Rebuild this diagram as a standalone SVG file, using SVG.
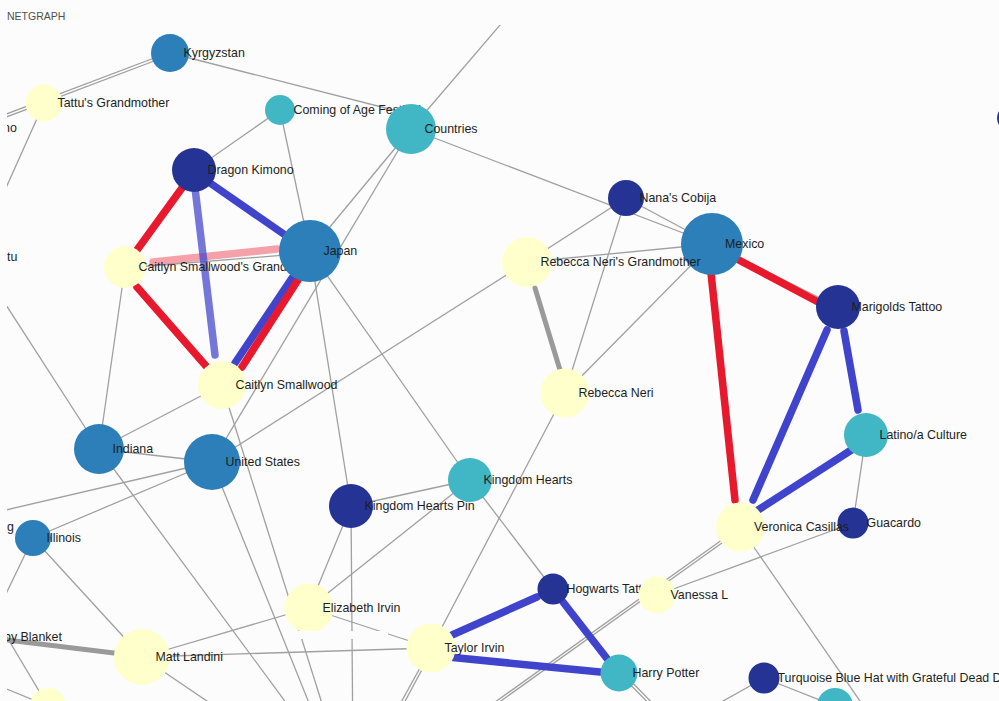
<svg xmlns="http://www.w3.org/2000/svg" width="999" height="701" viewBox="0 0 999 701">
<defs>
<clipPath id="area"><rect x="7" y="25" width="992" height="676"/></clipPath>
<style>
.e{stroke:#a0a0a0;stroke-width:1.3;fill:none}
.tg{stroke:#9a9a9a;stroke-width:5;stroke-linecap:round;fill:none}
.r{stroke:#e8192c;stroke-width:7.5;stroke-linecap:round;fill:none}
.b{stroke:#4044cc;stroke-width:7.5;stroke-linecap:round;fill:none}
.lb{stroke:#4044cc;stroke-opacity:0.72;stroke-width:7.5;stroke-linecap:round;fill:none}
.pk{stroke:#e8192c;stroke-opacity:0.4;stroke-width:7.5;stroke-linecap:round;fill:none}
.navy{fill:#253494}
.mid{fill:#2c7fb8}
.teal{fill:#41b6c4}
.yel{fill:#ffffcc}
text{font-family:"Liberation Sans",Arial,sans-serif;font-size:12.4px;fill:#1e1e1e}
.title{font-size:10.5px;fill:#505050}
</style>
</defs>
<rect x="0" y="0" width="999" height="701" fill="#fcfcfc"/>
<text class="title" x="7" y="20">NETGRAPH</text>
<g clip-path="url(#area)">
<g id="connectors">
<line class="e" x1="-20" y1="124" x2="170" y2="52"/>
<line class="e" x1="-20" y1="127" x2="170" y2="55"/>
<line class="e" x1="44" y1="103" x2="-25" y2="257"/>
<line class="e" x1="170" y1="53" x2="405" y2="113"/>
<line class="e" x1="280" y1="110" x2="194" y2="170"/>
<line class="e" x1="280" y1="110" x2="310" y2="251"/>
<line class="e" x1="411" y1="129" x2="310" y2="251"/>
<line class="e" x1="411" y1="129" x2="212" y2="462"/>
<line class="e" x1="411" y1="129" x2="712" y2="244"/>
<line class="e" x1="411" y1="129" x2="530" y2="-10"/>
<line class="e" x1="125" y1="268" x2="310" y2="253"/>
<line class="e" x1="125" y1="267" x2="99" y2="449"/>
<line class="e" x1="-25" y1="257" x2="99" y2="449"/>
<line class="e" x1="222" y1="385" x2="99" y2="449"/>
<line class="e" x1="99" y1="449" x2="212" y2="462"/>
<line class="e" x1="-20" y1="516" x2="212" y2="462"/>
<line class="e" x1="33" y1="538" x2="212" y2="462"/>
<line class="e" x1="33" y1="538" x2="-10" y2="627"/>
<line class="e" x1="33" y1="538" x2="142" y2="657"/>
<line class="e" x1="99" y1="449" x2="343" y2="780"/>
<line class="e" x1="212" y1="462" x2="340" y2="780"/>
<line class="e" x1="222" y1="385" x2="346" y2="780"/>
<line class="e" x1="310" y1="251" x2="351" y2="506"/>
<line class="e" x1="310" y1="251" x2="470" y2="480"/>
<line class="e" x1="212" y1="462" x2="527" y2="262"/>
<line class="e" x1="351" y1="506" x2="470" y2="480"/>
<line class="e" x1="351" y1="506" x2="309" y2="608"/>
<line class="e" x1="351" y1="506" x2="353" y2="760"/>
<line class="e" x1="470" y1="480" x2="309" y2="608"/>
<line class="e" x1="470" y1="480" x2="553" y2="589"/>
<line class="e" x1="431" y1="648" x2="565" y2="393"/>
<line class="e" x1="142" y1="657" x2="309" y2="608"/>
<line class="e" x1="142" y1="657" x2="431" y2="648"/>
<line class="e" x1="309" y1="608" x2="431" y2="648"/>
<line class="e" x1="142" y1="657" x2="260" y2="737"/>
<line class="e" x1="-5" y1="617" x2="48" y2="706"/>
<line class="e" x1="-20" y1="678" x2="48" y2="706"/>
<line class="e" x1="431" y1="648" x2="383" y2="735"/>
<line class="e" x1="433" y1="649" x2="387" y2="735"/>
<line class="e" x1="740" y1="527" x2="470" y2="720"/>
<line class="e" x1="741.5" y1="529" x2="471.5" y2="722"/>
<line class="e" x1="619" y1="673" x2="665" y2="720"/>
<line class="e" x1="621" y1="671" x2="667" y2="718"/>
<line class="e" x1="657" y1="595" x2="853" y2="523"/>
<line class="e" x1="740" y1="527" x2="880" y2="730"/>
<line class="e" x1="866" y1="435" x2="853" y2="523"/>
<line class="e" x1="866" y1="435" x2="740" y2="527"/>
<line class="e" x1="712" y1="244" x2="838" y2="307"/>
<line class="e" x1="764" y1="678" x2="700" y2="714"/>
<line class="e" x1="764" y1="678" x2="835" y2="706"/>
<line class="e" x1="527" y1="262" x2="626" y2="198"/>
<line class="e" x1="527" y1="262" x2="712" y2="244"/>
<line class="e" x1="626" y1="198" x2="565" y2="393"/>
<line class="e" x1="712" y1="244" x2="565" y2="393"/>
<line class="e" x1="626" y1="198" x2="712" y2="244"/>
<line class="tg" x1="535" y1="288" x2="560" y2="370"/>
<line class="tg" x1="-10" y1="638" x2="114" y2="653"/>
<line class="pk" x1="153" y1="262" x2="277" y2="249"/>
<line class="lb" x1="195" y1="188" x2="215" y2="355"/>
<line class="r" x1="182" y1="188" x2="137" y2="250"/>
<line class="r" x1="137" y1="287" x2="206" y2="366"/>
<line class="b" x1="210" y1="183" x2="288" y2="237"/>
<line class="b" x1="292" y1="278" x2="235" y2="363"/>
<line class="r" x1="298" y1="280" x2="242" y2="367"/>
<line class="r" x1="735" y1="258" x2="820" y2="303"/>
<line class="r" x1="711" y1="273" x2="735" y2="500"/>
<line class="b" x1="827" y1="330" x2="753" y2="500"/>
<line class="b" x1="844" y1="331" x2="858" y2="410"/>
<line class="b" x1="853" y1="449" x2="758" y2="510"/>
<line class="b" x1="452" y1="635" x2="537" y2="597"/>
<line class="b" x1="563" y1="602" x2="612" y2="665"/>
<line class="b" x1="438" y1="656" x2="600" y2="672"/>
</g>
<g id="off-left-labels">
<text x="3" y="132">no</text>
<text x="7" y="261">tu</text>
<text x="7" y="531">g</text>
<text x="4" y="641">by Blanket</text>
</g>
<g id="n-kyrgyzstan"><circle class="mid" cx="170" cy="53" r="19"/><text x="183.5" y="57">Kyrgyzstan</text></g>
<g id="n-tattus-grandmother"><circle class="yel" cx="44" cy="103" r="18.5"/><text x="57.5" y="107">Tattu's Grandmother</text></g>
<g id="n-coming-of-age"><circle class="teal" cx="280" cy="110" r="15"/><text x="293.5" y="114">Coming of Age Festival</text></g>
<g id="n-countries"><circle class="teal" cx="411" cy="129" r="25"/><text x="424.5" y="133">Countries</text></g>
<g id="n-dragon-kimono"><circle class="navy" cx="194" cy="170" r="22"/><text x="207.5" y="174">Dragon Kimono</text></g>
<g id="n-caitlyn-grandmother"><circle class="yel" cx="125" cy="267" r="21"/><text x="138.5" y="271">Caitlyn Smallwood's Grandmother</text></g>
<g id="n-japan"><circle class="mid" cx="310" cy="251" r="31"/><text x="323.5" y="255">Japan</text></g>
<g id="n-caitlyn"><circle class="yel" cx="222" cy="385" r="24"/><text x="235.5" y="389">Caitlyn Smallwood</text></g>
<g id="n-indiana"><circle class="mid" cx="99" cy="449" r="25"/><text x="112.5" y="453">Indiana</text></g>
<g id="n-us"><circle class="mid" cx="212" cy="462" r="28"/><text x="225.5" y="466">United States</text></g>
<g id="n-illinois"><circle class="mid" cx="33" cy="538" r="18"/><text x="46.5" y="542">Illinois</text></g>
<g id="n-kh-pin"><circle class="navy" cx="351" cy="506" r="22"/><text x="364.5" y="510">Kingdom Hearts Pin</text></g>
<g id="n-kh"><circle class="teal" cx="470" cy="480" r="22"/><text x="483.5" y="484">Kingdom Hearts</text></g>
<g id="n-elizabeth"><circle class="yel" cx="309" cy="608" r="24.5"/><text x="322.5" y="612">Elizabeth Irvin</text></g>
<rect x="285" y="631" width="103" height="8" fill="#fcfcfc"/>
<g id="n-matt"><circle class="yel" cx="142" cy="657" r="28"/><text x="155.5" y="661">Matt Landini</text></g>
<g id="n-small-yellow"><circle class="yel" cx="48" cy="706" r="18"/></g>
<g id="n-taylor"><circle class="yel" cx="431" cy="648" r="24.5"/><text x="444.5" y="652">Taylor Irvin</text></g>
<g id="n-nana"><circle class="navy" cx="626" cy="198" r="18"/><text x="639.5" y="202">Nana's Cobija</text></g>
<g id="n-mexico"><circle class="mid" cx="712" cy="244" r="31"/><text x="725" y="248">Mexico</text></g>
<g id="n-rebecca-grandmother"><circle class="yel" cx="527" cy="262" r="25"/><text x="540.5" y="266">Rebecca Neri's Grandmother</text></g>
<g id="n-marigolds"><circle class="navy" cx="838" cy="307" r="22"/><text x="851.5" y="311">Marigolds Tattoo</text></g>
<g id="n-rebecca"><circle class="yel" cx="565" cy="393" r="24.5"/><text x="578.5" y="397">Rebecca Neri</text></g>
<g id="n-latino"><circle class="teal" cx="866" cy="435" r="22"/><text x="879.5" y="439">Latino/a Culture</text></g>
<g id="n-guacardo"><circle class="navy" cx="853" cy="523" r="15.5"/><text x="866.5" y="527">Guacardo</text></g>
<g id="n-veronica"><circle class="yel" cx="740.5" cy="527" r="24.5"/><text x="754" y="531">Veronica Casillas</text></g>
<g id="n-hogwarts"><circle class="navy" cx="553" cy="589" r="15.5"/><text x="566.5" y="593">Hogwarts Tattoo</text></g>
<g id="n-vanessa"><circle class="yel" cx="657" cy="595" r="18.5"/><text x="670.5" y="599">Vanessa L</text></g>
<g id="n-harry"><circle class="teal" cx="619" cy="673" r="18.5"/><text x="632.5" y="677">Harry Potter</text></g>
<g id="n-turquoise"><circle class="navy" cx="764" cy="678" r="15.5"/><text x="777.5" y="682">Turquoise Blue Hat with Grateful Dead D</text></g>
<g id="n-teal-bottom"><circle class="teal" cx="835" cy="706" r="18"/></g>
<g id="n-right-edge"><circle class="navy" cx="1010" cy="118" r="13"/></g>
</g>
</svg>
